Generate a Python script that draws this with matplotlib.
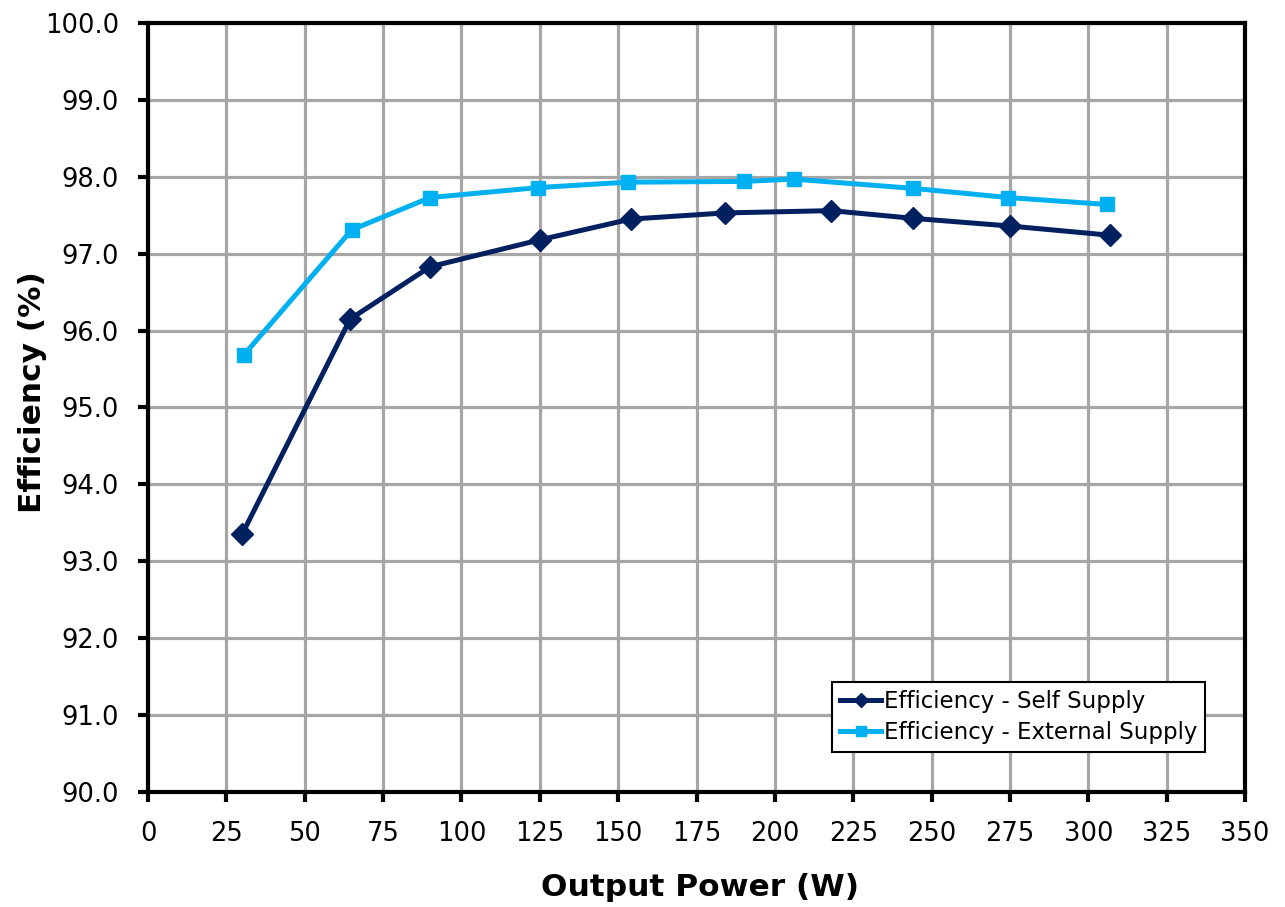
import matplotlib
matplotlib.use("Agg")
import matplotlib.pyplot as plt

self_x = [30, 64.5, 90, 125, 154, 184, 218, 244, 275, 307]
self_y = [93.35, 96.15, 96.83, 97.18, 97.45, 97.53, 97.56, 97.46, 97.36, 97.24]
ext_x = [30.5, 65, 90, 124.5, 153, 190, 206, 244, 274.5, 306]
ext_y = [95.68, 97.31, 97.73, 97.86, 97.93, 97.94, 97.97, 97.85, 97.73, 97.64]
x_ticks = list(range(0, 351, 25))
y_ticks = [90 + i for i in range(11)]

plt.rcParams['font.family'] = ['DejaVu Sans']
fig = plt.figure(figsize=(12.85, 9.07), dpi=100)
ax = fig.add_axes([148/1285, 1 - 792/907, (1245-148)/1285, (792-23)/907])

ax.plot(self_x, self_y, color='#002060', lw=3.6, marker='D', ms=11,
        label='Efficiency - Self Supply', zorder=3)
ax.plot(ext_x, ext_y, color='#00B0F0', lw=3.6, marker='s', ms=10,
        label='Efficiency - External Supply', zorder=3)

ax.set_xlim(0, 350)
ax.set_ylim(90, 100)
ax.set_xticks(x_ticks)
ax.set_yticks(y_ticks)
ax.set_yticklabels([f"{v:.1f}" for v in y_ticks])
ax.grid(True, color='#A6A6A6', lw=2.3, zorder=0)
ax.set_axisbelow(True)
for s in ax.spines.values():
    s.set_linewidth(3)
    s.set_color('black')
ax.tick_params(direction='out', length=7, width=3, labelsize=18.5, pad=14, color='black')

ax.set_xlabel('Output Power (W)', fontsize=22.5, fontweight='bold')
ax.set_ylabel('Efficiency (%)', fontsize=22.5, fontweight='bold')
ax.xaxis.set_label_coords((700 - 148) / 1097, (792 - 873) / 769)
ax.yaxis.set_label_coords((47 - 148) / 1097, (792 - 392) / 769)

leg = ax.legend(loc='lower right', bbox_to_anchor=(1205/1285, 1 - 752/907),
                bbox_transform=fig.transFigure, fontsize=16.5, frameon=True,
                fancybox=False, framealpha=1, edgecolor='black',
                handlelength=1.8, handletextpad=0.1, borderpad=0.35,
                labelspacing=0.35, borderaxespad=0, markerscale=0.65)
leg.get_frame().set_linewidth(1.5)

fig.savefig('out.png', dpi=100)
